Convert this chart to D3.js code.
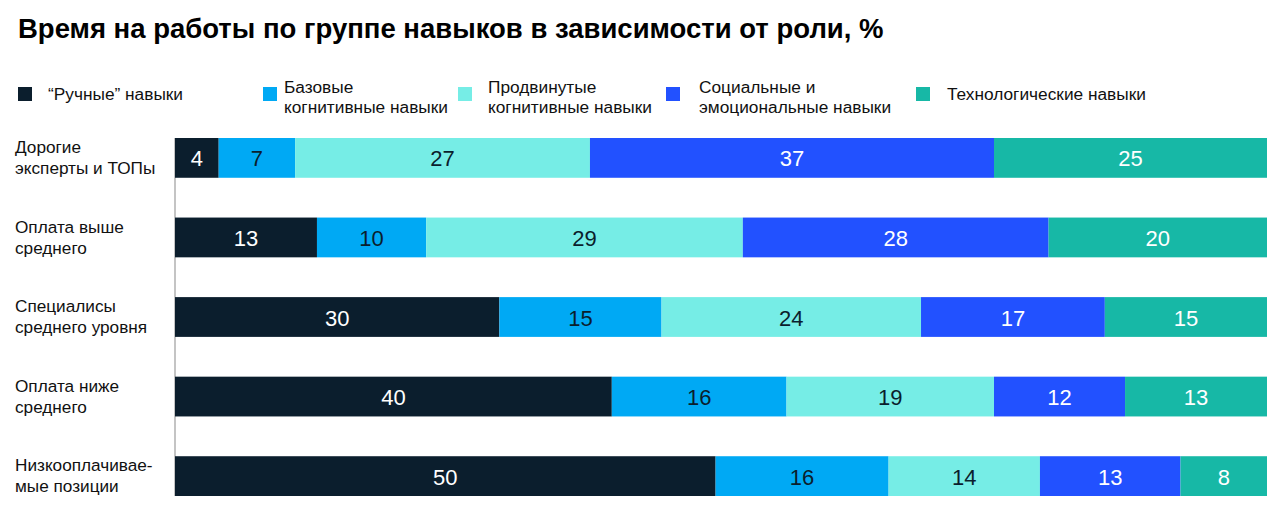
<!DOCTYPE html>
<html lang="ru">
<head>
  <meta charset="UTF-8">
  <title>Время на работы по группе навыков</title>
  <script src="https://d3js.org/d3.v7.min.js"></script>
  <style>
    body { margin: 0; background: #fff; font-family: "Liberation Sans", Arial, sans-serif; }
    svg { display: block; }
    .title { font-size: 27.5px; font-weight: bold; fill: #000; }
    .legend text { font-size: 17.3px; fill: #111; }
    .row-label { font-size: 17.2px; fill: #111; }
    .value { font-size: 22px; text-anchor: middle; dominant-baseline: central; }
  </style>
</head>
<body>
  <script>
    // roles (rows) and skill groups (series)
    const roles = [
      ["Дорогие", "эксперты и ТОПы"],
      ["Оплата выше", "среднего"],
      ["Специалисы", "среднего уровня"],
      ["Оплата ниже", "среднего"],
      ["Низкооплачивае-", "мые позиции"]
    ];
    const skills = [
      ["“Ручные” навыки"],
      ["Базовые", "когнитивные навыки"],
      ["Продвинутые", "когнитивные навыки"],
      ["Социальные и", "эмоциональные навыки"],
      ["Технологические навыки"]
    ];
    const manual   = [4, 13, 30, 40, 50];
    const basic    = [7, 10, 15, 16, 16];
    const advanced = [27, 29, 24, 19, 14];
    const social   = [37, 28, 17, 12, 13];
    const tech     = [25, 20, 15, 13, 8];

    const colors = ["#0b1e2d", "#00a9f4", "#76ede6", "#2251ff", "#17b8a6"];
    const textColors = ["#fff", "#0b1e2d", "#0b1e2d", "#fff", "#fff"];

    const keys = ["manual", "basic", "advanced", "social", "tech"];
    const series = [manual, basic, advanced, social, tech];
    const rows = roles.map((r, i) => {
      const o = { role: r.join(" ") };
      keys.forEach((k, j) => o[k] = series[j][i]);
      return o;
    });

    const width = 1280, height = 522;
    const svg = d3.select("body").append("svg")
      .attr("width", width)
      .attr("height", height);

    svg.append("text")
      .attr("class", "title")
      .attr("x", 18)
      .attr("y", 38)
      .text("Время на работы по группе навыков в зависимости от роли, %");

    // legend
    const legendX = [18, 263, 458, 666, 916];
    const legendTextX = [48, 284, 488, 699, 947];
    const legend = svg.append("g").attr("class", "legend");
    skills.forEach((s, i) => {
      legend.append("rect")
        .attr("x", legendX[i])
        .attr("y", 87)
        .attr("width", 14)
        .attr("height", 14)
        .attr("fill", colors[i]);
      const t = legend.append("text")
        .attr("x", legendTextX[i])
        .attr("y", s.length > 1 ? 93 : 100);
      s.forEach((line, j) => {
        t.append("tspan")
          .attr("x", legendTextX[i])
          .attr("dy", j === 0 ? 0 : 20)
          .text(line);
      });
    });

    const x = d3.scaleLinear().domain([0, 1]).range([175, 1267]);
    const y = d3.scaleBand()
      .domain(rows.map(d => d.role))
      .range([138, 496])
      .paddingInner(0.5)
      .paddingOuter(0);

    const stack = d3.stack().keys(keys).offset(d3.stackOffsetExpand);
    const stacked = stack(rows);

    // baseline
    svg.append("line")
      .attr("x1", x(0)).attr("x2", x(0))
      .attr("y1", y.range()[0]).attr("y2", y.range()[1])
      .attr("stroke", "#c4c4c4")
      .attr("stroke-width", 2);

    const layer = svg.selectAll(".layer")
      .data(stacked)
      .join("g")
      .attr("class", "layer");

    layer.selectAll("rect")
      .data(d => d)
      .join("rect")
      .attr("x", d => x(d[0]))
      .attr("y", d => y(d.data.role))
      .attr("width", d => x(d[1]) - x(d[0]))
      .attr("height", y.bandwidth())
      .attr("fill", (d, i, n) => colors[d3.select(n[i].parentNode).datum().index]);

    layer.each(function(s) {
      d3.select(this).selectAll("text")
        .data(s)
        .join("text")
        .attr("class", "value")
        .attr("x", d => (x(d[0]) + x(d[1])) / 2)
        .attr("y", d => y(d.data.role) + y.bandwidth() / 2 + 1)
        .attr("fill", textColors[s.index])
        .text(d => d.data[s.key]);
    });

    // row labels
    const labels = svg.selectAll(".row-label")
      .data(roles)
      .join("text")
      .attr("class", "row-label")
      .attr("x", 15)
      .attr("y", (d, i) => y(rows[i].role) + 15);
    labels.selectAll("tspan")
      .data(d => d)
      .join("tspan")
      .attr("x", 15)
      .attr("dy", (d, j) => j === 0 ? 0 : 21)
      .text(d => d);
  </script>
</body>
</html>
